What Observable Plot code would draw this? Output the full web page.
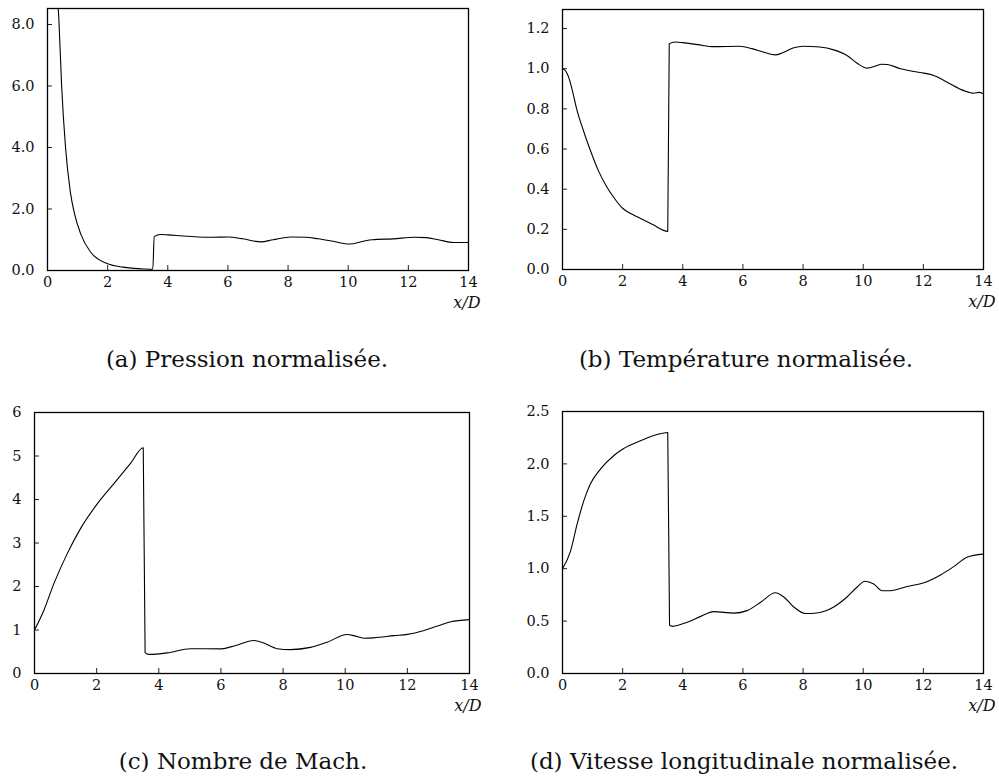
<!DOCTYPE html>
<html><head><meta charset="utf-8">
<script src="https://cdn.jsdelivr.net/npm/d3@7"></script>
<script src="https://cdn.jsdelivr.net/npm/@observablehq/plot@0.6"></script>
<style>
body{margin:0;background:#fff;}
#wrap{position:relative;width:999px;height:778px;overflow:hidden;font-family:"DejaVu Serif",serif;background:#fff;}
.panel{position:absolute;}
.panel svg text{font-family:"DejaVu Serif",serif;}
.cap{position:absolute;width:500px;text-align:center;font-size:23px;line-height:23px;color:#111;white-space:nowrap;}
</style></head><body><div id="wrap"></div>
<script>
// x/D tick values shared by all panels
const xTicks = [0, 2, 4, 6, 8, 10, 12, 14];

// (a) Pression normalisée
const pressureX = [0, 0.1, 0.2, 0.3, 0.38, 0.47, 0.6, 0.76, 0.9, 1.1, 1.43, 2.0, 2.5, 2.87, 3.2, 3.5, 3.55, 3.75, 4.0, 4.5, 5.0, 5.5, 6.0, 6.5, 7.1, 7.5, 8.1, 8.6, 9.0, 9.5, 10.05, 10.5, 10.8, 11.5, 12.2, 12.6, 13.0, 13.5, 14.0];
const pressureY = [20, 15, 11.5, 9.3, 8.13, 6.0, 4.0, 2.55, 1.84, 1.2, 0.6, 0.22, 0.11, 0.07, 0.05, 0.04, 1.1, 1.17, 1.16, 1.12, 1.09, 1.08, 1.09, 1.03, 0.93, 1.0, 1.09, 1.08, 1.03, 0.95, 0.86, 0.95, 1.0, 1.03, 1.08, 1.07, 1.0, 0.91, 0.91];
const pressureTicks = [0, 2, 4, 6, 8];

// (b) Température normalisée
const tempX = [0, 0.1, 0.2, 0.33, 0.47, 0.7, 0.91, 1.2, 1.46, 1.7, 2.0, 2.25, 2.5, 3.0, 3.5, 3.55, 3.75, 4.0, 4.5, 5.03, 5.9, 6.3, 6.7, 7.08, 7.3, 7.69, 8.0, 8.55, 9.02, 9.46, 9.8, 10.13, 10.46, 10.6, 10.8, 11.24, 11.68, 12.02, 12.35, 12.79, 13.35, 13.68, 13.85, 14.0];
const tempY = [1.0, 0.99, 0.96, 0.89, 0.8, 0.69, 0.6, 0.49, 0.415, 0.36, 0.305, 0.28, 0.262, 0.224, 0.19, 1.125, 1.133, 1.13, 1.12, 1.11, 1.112, 1.1, 1.082, 1.069, 1.078, 1.104, 1.112, 1.108, 1.094, 1.066, 1.027, 1.003, 1.016, 1.022, 1.021, 1.0, 0.986, 0.978, 0.966, 0.933, 0.891, 0.878, 0.882, 0.875];
const tempTicks = [0, 0.2, 0.4, 0.6, 0.8, 1.0, 1.2];

// (c) Nombre de Mach
const machX = [0, 0.3, 0.62, 1.05, 1.48, 2.02, 2.55, 3.09, 3.5, 3.56, 3.68, 4.27, 5.02, 6.02, 6.45, 7.06, 7.38, 7.81, 8.24, 8.88, 9.42, 10.06, 10.28, 10.6, 10.92, 11.57, 12.0, 12.54, 12.97, 13.4, 14.0];
const machY = [1.0, 1.45, 2.06, 2.75, 3.33, 3.9, 4.36, 4.83, 5.19, 0.48, 0.44, 0.475, 0.57, 0.567, 0.64, 0.76, 0.70, 0.57, 0.55, 0.60, 0.72, 0.895, 0.87, 0.81, 0.82, 0.87, 0.9, 0.99, 1.09, 1.19, 1.24];
const machTicks = [0, 1, 2, 3, 4, 5, 6];

// (d) Vitesse longitudinale normalisée
const velX = [0, 0.27, 0.49, 0.71, 0.93, 1.26, 1.71, 2.02, 2.59, 3.15, 3.5, 3.56, 3.66, 4.15, 4.6, 5.03, 5.7, 6.14, 6.59, 7.08, 7.36, 7.69, 8.08, 8.46, 9.02, 9.46, 9.8, 10.05, 10.35, 10.63, 10.9, 11.46, 12.02, 12.57, 13.01, 13.45, 14.0];
const velY = [1.0, 1.17, 1.43, 1.65, 1.81, 1.95, 2.08, 2.145, 2.22, 2.28, 2.30, 0.46, 0.45, 0.49, 0.545, 0.59, 0.576, 0.60, 0.68, 0.77, 0.73, 0.635, 0.572, 0.578, 0.635, 0.73, 0.825, 0.88, 0.855, 0.79, 0.79, 0.83, 0.865, 0.94, 1.02, 1.11, 1.14];
const velTicks = [0, 0.5, 1.0, 1.5, 2.0, 2.5];

const captions = ["(a) Pression normalisée.", "(b) Température normalisée.", "(c) Nombre de Mach.", "(d) Vitesse longitudinale normalisée."];
const xLabel = "x/D";

const wrap = document.getElementById("wrap");
const FONT = "DejaVu Serif";

function panel(cfg) {
  const {xs, ys, yTicks, yFormat, yMax, left, top, width, height, ml, mr, mt, mb} = cfg;
  const data = xs.map((x, i) => ({x, y: ys[i]}));
  const plotH = height - mt - mb;
  const plotW = width - ml - mr;
  const svg = Plot.plot({
    width, height,
    marginLeft: ml, marginRight: mr, marginTop: mt, marginBottom: mb,
    x: {domain: [0, 14]},
    y: {domain: [0, yMax]},
    style: {fontFamily: FONT, fontSize: "14.5px", color: "#111", background: "white", overflow: "visible"},
    marks: [
      Plot.ruleX(xTicks, {x: d => d, insetTop: plotH - 5, stroke: "#222", strokeWidth: 1}),
      Plot.ruleY(yTicks, {y: d => d, insetRight: plotW - 5, stroke: "#222", strokeWidth: 1}),
      Plot.axisX({ticks: xTicks, tickSize: 0, tickPadding: 6, tickFormat: d => String(d), label: null, fontFamily: FONT}),
      Plot.axisY({ticks: yTicks, tickSize: 0, tickPadding: 13, tickFormat: yFormat, label: null, fontFamily: FONT}),
      Plot.line(data, {x: "x", y: "y", curve: "monotone-x", stroke: "black", strokeWidth: 1.1, clip: true}),
      Plot.frame({stroke: "black", strokeWidth: 1.3}),
      Plot.text([xLabel], {frameAnchor: "bottom-right", text: d => d, dx: 12, dy: 37, textAnchor: "end", fontStyle: "italic", fontFamily: FONT, fontSize: 16, fill: "#111"})
    ]
  });
  const div = document.createElement("div");
  div.className = "panel";
  div.style.left = left + "px";
  div.style.top = top + "px";
  div.appendChild(svg);
  wrap.appendChild(div);
}

function caption(text, center, top) {
  const d = document.createElement("div");
  d.className = "cap";
  d.style.left = (center - 250) + "px";
  d.style.top = top + "px";
  d.textContent = text;
  wrap.appendChild(d);
}

const f1 = d3.format(".1f");
panel({xs: pressureX, ys: pressureY, yTicks: pressureTicks, yFormat: f1, yMax: 8.52, left: 0, top: 0, width: 500, height: 330, ml: 47, mr: 32, mt: 8, mb: 60});
panel({xs: tempX, ys: tempY, yTicks: tempTicks, yFormat: f1, yMax: 1.295, left: 500, top: 0, width: 499, height: 330, ml: 62, mr: 16, mt: 9, mb: 61});
panel({xs: machX, ys: machY, yTicks: machTicks, yFormat: d3.format("d"), yMax: 6, left: 0, top: 390, width: 500, height: 340, ml: 34, mr: 31, mt: 22, mb: 57});
panel({xs: velX, ys: velY, yTicks: velTicks, yFormat: f1, yMax: 2.5, left: 500, top: 390, width: 499, height: 340, ml: 62, mr: 16, mt: 21, mb: 57});

caption(captions[0], 247, 348);
caption(captions[1], 746, 348);
caption(captions[2], 243, 750);
caption(captions[3], 744, 750);
</script>
</body></html>
